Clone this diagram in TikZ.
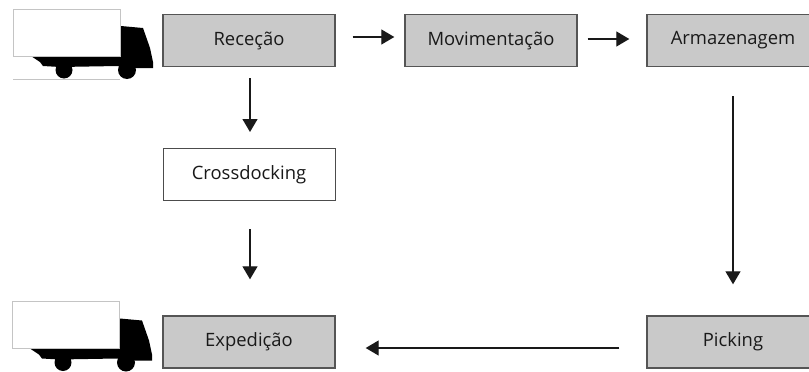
\documentclass[tikz,border=0pt]{standalone}
\usepackage{fontspec}
\setmainfont{Open Sans}
\usepackage{xcolor}
\usetikzlibrary{positioning,arrows.meta}

\definecolor{boxgray}{HTML}{C9C9C9}
\definecolor{boxline}{HTML}{555555}
\definecolor{vanline}{HTML}{C4C4C4}

\tikzset{
  etapa/.style={draw=boxline, line width=1.4pt, fill=boxgray, minimum width=172pt, minimum height=52pt, text=black!90, font=\fontsize{18.4}{21}\selectfont},
  etapab/.style={etapa, fill=white, draw=black!70, line width=1pt},
  seta/.style={-{Triangle[length=13pt,width=15pt]}, line width=1.3pt, black!90},
  truck/.pic={
    \fill[black] (121,26) -- (143,28) -- (150,48) -- (153,62) -- (153,68) -- (136,68) -- (118,66) -- (60,67) -- (43,66) -- (40,62) -- (31,56) -- (121,56) -- cycle;
    \fill[black] (64,70) circle (8.5);
    \fill[black] (127,70) circle (9);
    \draw[vanline, line width=1pt, fill=white] (13,9) rectangle (120,56);
  }
}

\begin{document}
\begin{tikzpicture}[x=1pt, y=-1pt, node distance=242pt, on grid]

\useasboundingbox (0,0) rectangle (809,372);
\clip (0,0) rectangle (809,372);

\node[etapa] (rececao) at (249,40.5) {Receção};
\node[etapa] (movimentacao) [right=of rececao] {Movimentação};
\node[etapa] (armazenagem) [right=of movimentacao] {Armazenagem};
\node[etapab] (crossdocking) [below=134pt of rececao] {Crossdocking};
\node[etapa] (expedicao) [below=167.5pt of crossdocking] {Expedição};
\node[etapa] (picking) at (armazenagem |- expedicao) {Picking};


\pic (truckin) at (0,0) {truck};
\pic (truckout) at (-1,292.5) {truck};
\coordinate (groundl) at (13,79);
\coordinate (groundr) at (120,79);
\draw[vanline, line width=1pt] (groundl) -- (groundr);


\draw[seta, shorten <=17pt, shorten >=10pt] ([yshift=3.5pt]rececao.east) -- ([yshift=3.5pt]movimentacao.west);
\draw[seta, shorten <=10pt, shorten >=17pt] ([yshift=1.5pt]movimentacao.east) -- ([yshift=1.5pt]armazenagem.west);
\draw[seta, shorten <=11pt, shorten >=16pt] ([xshift=1pt]rececao.south) -- ([xshift=1pt]crossdocking.north);
\draw[seta, shorten <=28pt, shorten >=36pt] ([xshift=1pt]crossdocking.south) -- ([xshift=1pt]expedicao.north);
\draw[seta, shorten <=29pt, shorten >=31pt] (armazenagem.south) -- (picking.north);
\draw[seta, shorten <=27pt, shorten >=30pt] ([yshift=-6pt]picking.west) -- ([yshift=-6pt]expedicao.east);

\end{tikzpicture}
\end{document}
